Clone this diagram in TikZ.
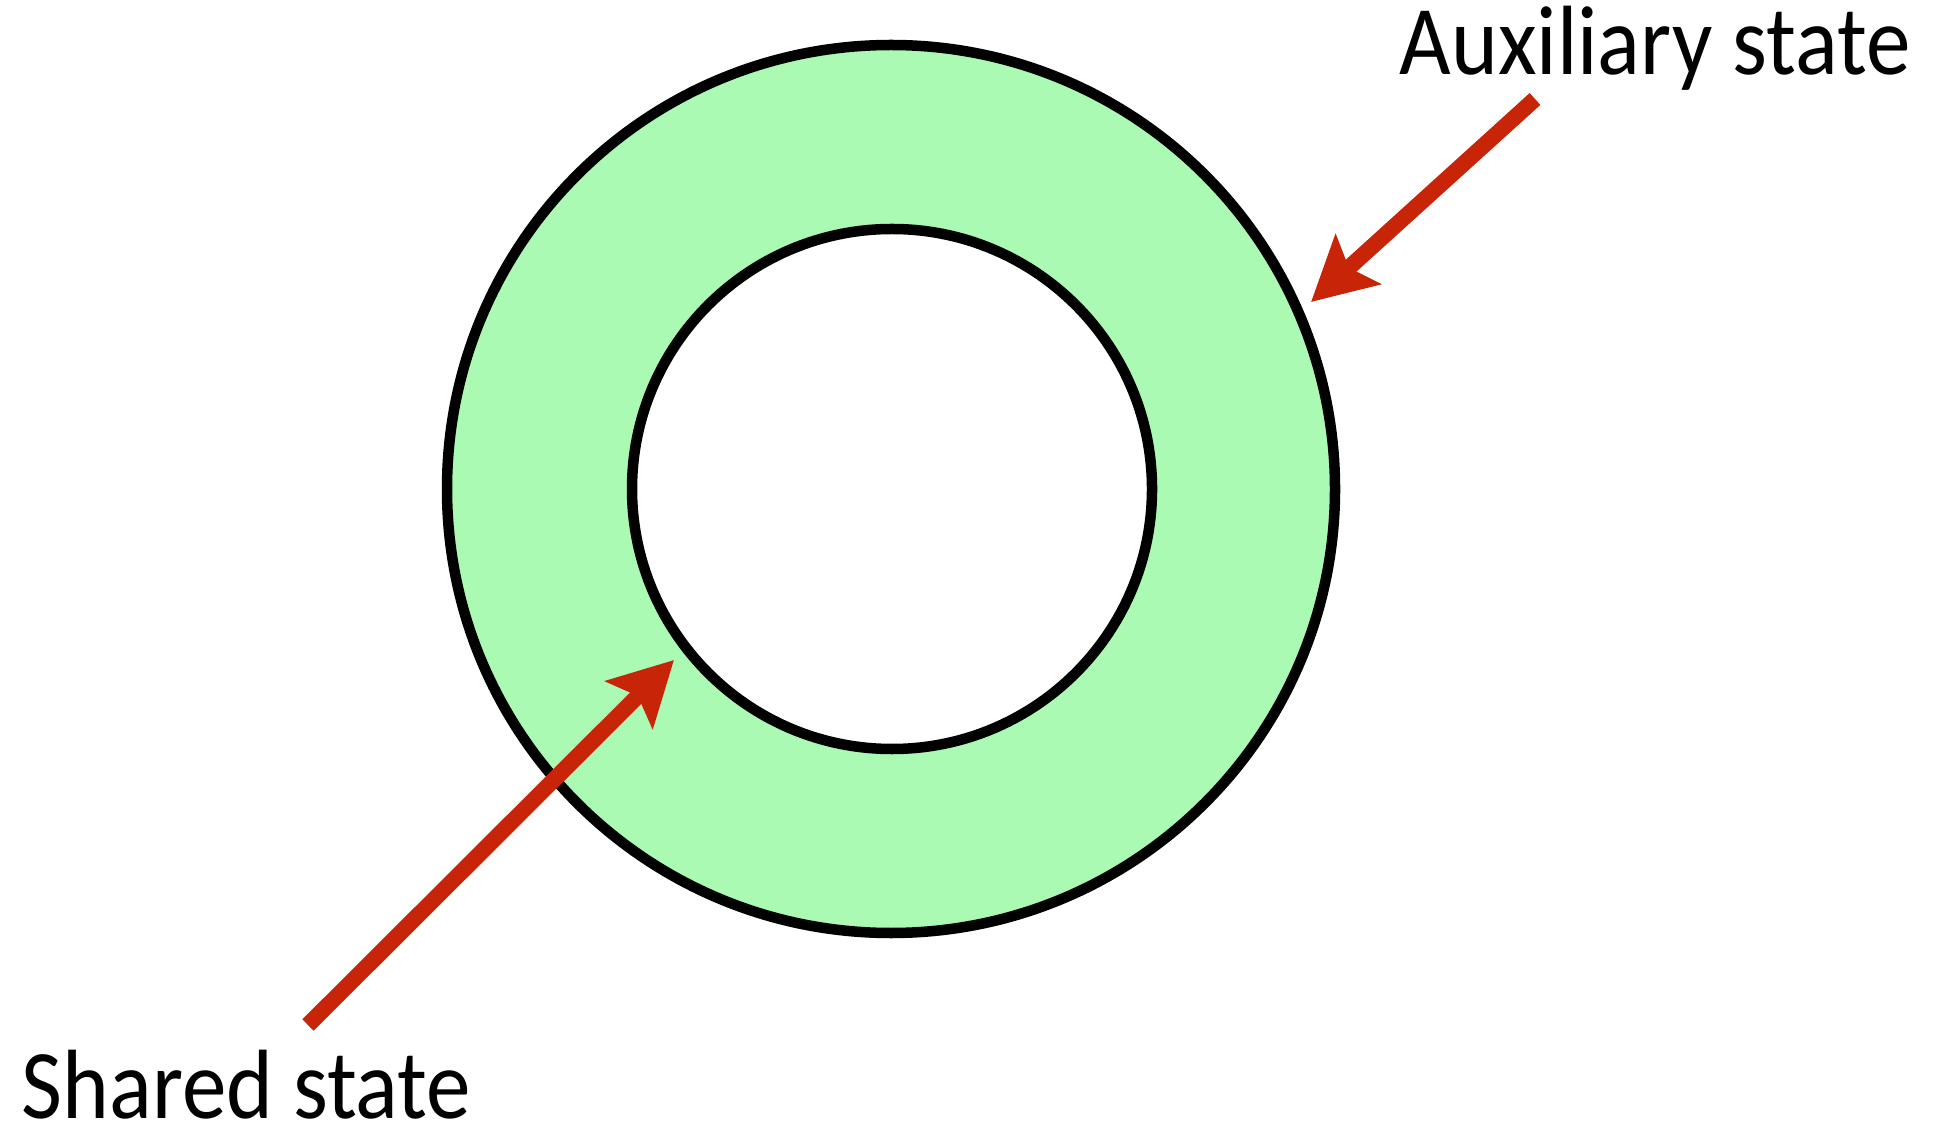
\documentclass[tikz,border=0pt]{standalone}
\usepackage{fontspec}
\setmainfont[FakeStretch=0.905]{Carlito}
\usetikzlibrary{arrows.meta}
\definecolor{ringgreen}{RGB}{170,250,180}
\definecolor{arrowred}{RGB}{200,37,8}
\tikzset{
  ring/.style={draw=black, line width=0.105cm},
  pointer/.style={draw=arrowred, line width=0.16cm,
    -{Stealth[length=0.63cm, width=0.66cm, inset=0.12cm, fill=arrowred]}},
  label/.style={inner sep=0pt, font=\fontsize{28}{32}\selectfont}
}
\begin{document}
\begin{tikzpicture}[x=0.01cm, y=-0.01cm]
\useasboundingbox (0,0) rectangle (1946,1125);
\fill[white] (0,0) rectangle (1946,1125);
\draw[ring, fill=ringgreen] (891,489) circle (444);
\draw[ring, fill=white] (892,489) circle (260);
\node[label, anchor=base west] (aux) at (1399,75) {Auxiliary state};
\node[label, anchor=base west] (shared) at (21,1118) {Shared state};
\coordinate (auxtail) at (1535,99);
\coordinate (auxtip) at (1311,302);
\coordinate (sharedtail) at (308,1025);
\coordinate (sharedtip) at (674,660);
\draw[pointer] (auxtail) -- (auxtip);
\draw[pointer] (sharedtail) -- (sharedtip);
\end{tikzpicture}
\end{document}
